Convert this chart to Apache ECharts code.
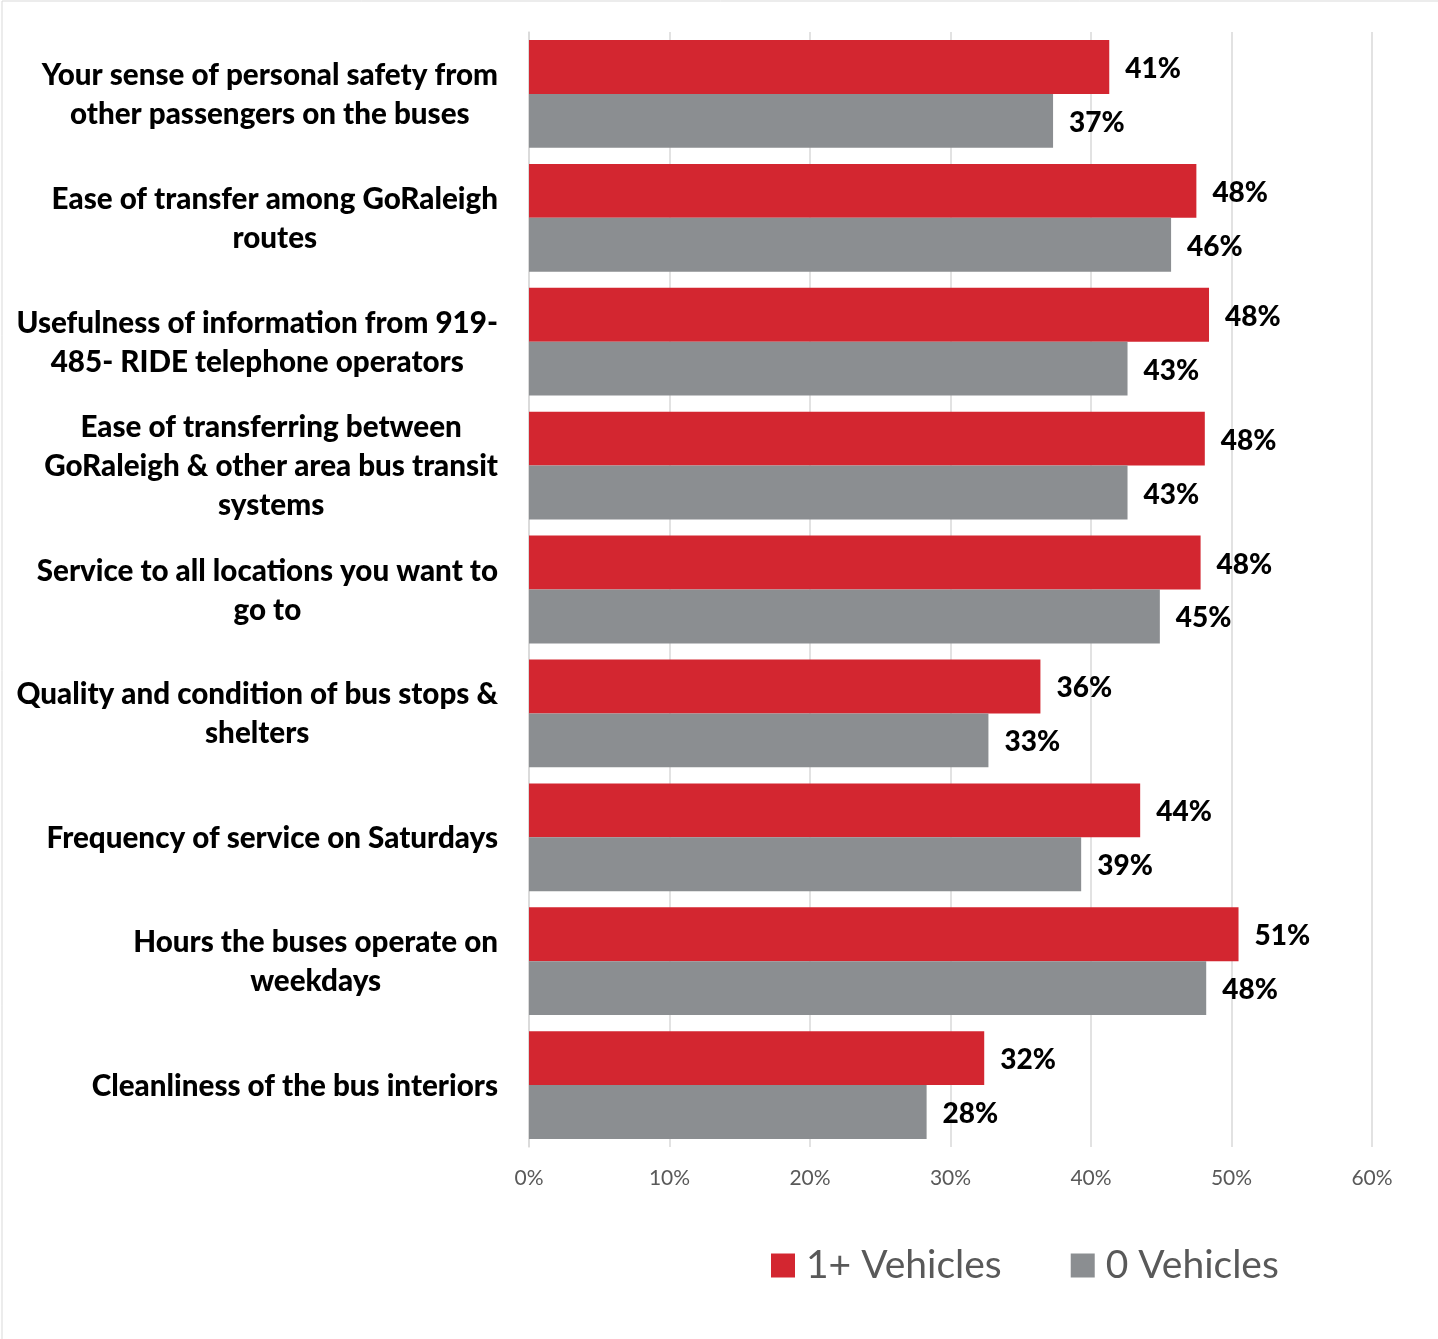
<!DOCTYPE html>
<html>
<head>
<meta charset="utf-8">
<title>Satisfaction by vehicle ownership</title>
<script src="https://cdn.jsdelivr.net/npm/echarts@6/dist/echarts.min.js"></script>
<style>
  html, body { margin: 0; padding: 0; background: #ffffff; }
  #chart { width: 1438px; height: 1339px; }
</style>
</head>
<body>
<div id="chart"></div>
<script>
// Survey items, top to bottom
const categories = [
  "Your sense of personal safety from\nother passengers on the buses",
  "Ease of transfer among GoRaleigh\nroutes",
  "Usefulness of information from 919-\n485- RIDE telephone operators",
  "Ease of transferring between\nGoRaleigh & other area bus transit\nsystems",
  "Service to all locations you want to\ngo to",
  "Quality and condition of bus stops &\nshelters",
  "Frequency of service on Saturdays",
  "Hours the buses operate on\nweekdays",
  "Cleanliness of the bus interiors"
];

// Percent of respondents, households with one or more vehicles
const vehiclesOnePlus = [41.3, 47.5, 48.4, 48.1, 47.8, 36.4, 43.5, 50.5, 32.4];
// Percent of respondents, households with no vehicle
const vehiclesNone = [37.3, 45.7, 42.6, 42.6, 44.9, 32.7, 39.3, 48.2, 28.3];

const seriesNames = ["1+ Vehicles", "0 Vehicles"];

const RED = "#D32630";
const GRAY = "#8B8E91";
const FONT = "Lato, 'Open Sans', sans-serif";

const chart = echarts.init(document.getElementById("chart"), null, { renderer: "canvas" });

const valueLabel = {
  show: true,
  position: "right",
  distance: 16,
  offset: [0, 2],
  fontFamily: FONT,
  fontWeight: 900,
  fontSize: 28,
  color: "#000000",
  formatter: p => Math.round(p.value) + "%"
};

chart.setOption({
  backgroundColor: "#ffffff",
  animation: false,
  textStyle: { fontFamily: FONT },
  graphic: [{
    type: "rect",
    shape: { x: 2, y: 1, width: 1440, height: 1342 },
    style: { fill: "none", stroke: "#d9d9d9", lineWidth: 1 },
    silent: true
  }],
  grid: { left: 529, right: 66, top: 32, bottom: 192, containLabel: false },
  legend: {
    data: seriesNames,
    left: 771,
    top: 1246,
    padding: 0,
    icon: "rect",
    itemWidth: 24,
    itemHeight: 24,
    itemGap: 69,
    textStyle: {
      fontFamily: FONT,
      fontSize: 39,
      color: "#595959",
      padding: [0, 0, 0, 6]
    }
  },
  xAxis: {
    type: "value",
    min: 0,
    max: 60,
    interval: 10,
    axisLine: { show: false },
    axisTick: { show: false },
    splitLine: { show: true, lineStyle: { color: "#d9d9d9", width: 1.5 } },
    axisLabel: {
      formatter: "{value}%",
      color: "#595959",
      fontFamily: FONT,
      fontSize: 21,
      margin: 21
    }
  },
  yAxis: {
    type: "category",
    inverse: true,
    data: categories,
    axisLine: { show: true, lineStyle: { color: "#d9d9d9", width: 1.5 } },
    axisTick: { show: false },
    axisLabel: {
      margin: 31,
      formatter: v => v.split("\n").map(line => "{c|" + line + "}").join("\n"),
      rich: {
        c: {
          align: "center",
          fontFamily: FONT,
          fontWeight: 900,
          fontSize: 29.6,
          lineHeight: 39,
          color: "#000000",
          padding: [2, 0, 0, 0]
        }
      }
    }
  },
  series: [
    {
      name: seriesNames[0],
      type: "bar",
      data: vehiclesOnePlus,
      itemStyle: { color: RED },
      barGap: "0%",
      barCategoryGap: "13%",
      label: valueLabel
    },
    {
      name: seriesNames[1],
      type: "bar",
      data: vehiclesNone,
      itemStyle: { color: GRAY },
      barGap: "0%",
      barCategoryGap: "13%",
      label: valueLabel
    }
  ]
});
</script>
</body>
</html>
